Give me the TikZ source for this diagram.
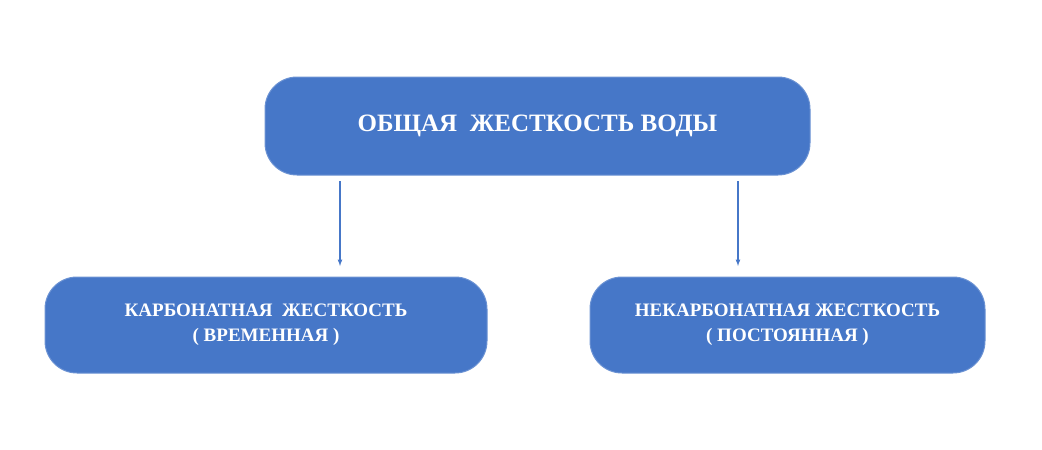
\documentclass[tikz,border=0pt]{standalone}
\usepackage{fontspec}
\setmainfont{Liberation Serif}
\begin{document}
\begin{tikzpicture}[x=1pt,y=-1pt,
  box/.style={fill=boxblue,draw=boxblue!80!white,line width=1pt,rounded corners=32pt,text=white,font=\bfseries,align=center,inner sep=0pt},
  arr/.style={draw=boxblue,line width=1.2pt,-latex}]
\definecolor{boxblue}{HTML}{4677C8}
\useasboundingbox (0,0) rectangle (1042,450);
\node[box,minimum width=545pt,minimum height=98pt,font=\bfseries\fontsize{25}{30}\selectfont] (top) at (537.5,126) {ОБЩАЯ\ \ ЖЕСТКОСТЬ ВОДЫ};
\node[box,minimum width=442pt,minimum height=96pt,font=\bfseries\fontsize{19}{25}\selectfont] (l) at (266,325) {КАРБОНАТНАЯ\ \ ЖЕСТКОСТЬ\\( ВРЕМЕННАЯ )};
\node[box,minimum width=395pt,minimum height=96pt,font=\bfseries\fontsize{19}{25}\selectfont] (r) at (787.5,325) {НЕКАРБОНАТНАЯ ЖЕСТКОСТЬ\\( ПОСТОЯННАЯ )};
\coordinate (a1) at (340,181); \coordinate (b1) at (340,266);
\coordinate (a2) at (738,181); \coordinate (b2) at (738,266);
\draw[arr] (a1) -- (b1);
\draw[arr] (a2) -- (b2);
\end{tikzpicture}
\end{document}
